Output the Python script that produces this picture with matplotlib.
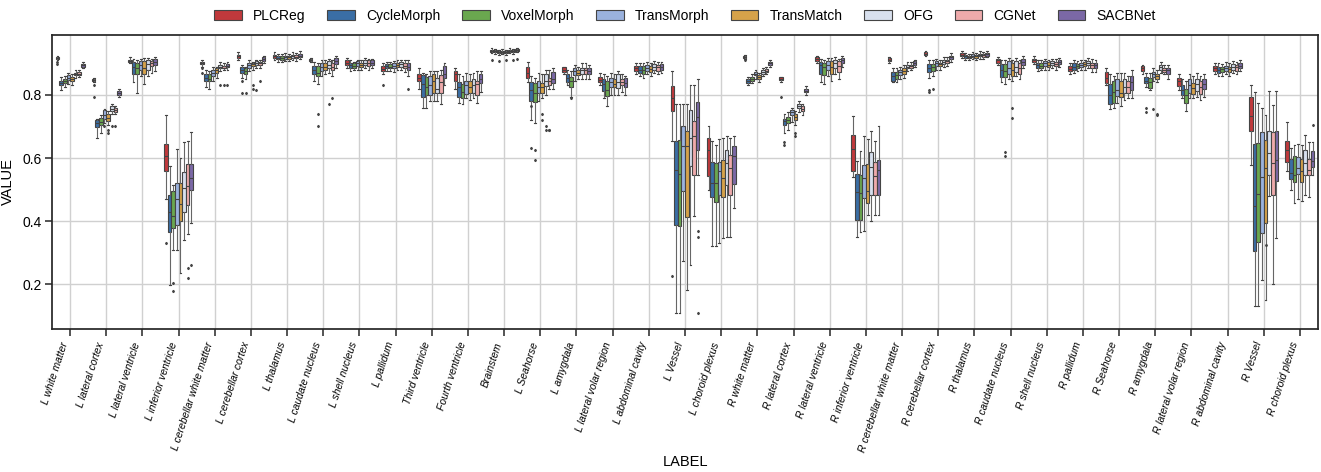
import matplotlib
matplotlib.use("Agg")
import matplotlib.pyplot as plt
from matplotlib.patches import Patch

plt.rcParams['font.family'] = ['Liberation Sans', 'DejaVu Sans']

labels = ["L white matter", "L lateral cortex", "L lateral ventricle", "L inferior ventricle",
          "L cerebellar white matter", "L cerebellar cortex", "L thalamus", "L caudate nucleus",
          "L shell nucleus", "L pallidum", "Third ventricle", "Fourth ventricle", "Brainstem",
          "L Seahorse", "L amygdala", "L lateral volar region", "L abdominal cavity", "L Vessel",
          "L choroid plexus", "R white matter", "R lateral cortex", "R lateral ventricle",
          "R inferior ventricle", "R cerebellar white matter", "R cerebellar cortex", "R thalamus",
          "R caudate nucleus", "R shell nucleus", "R pallidum", "R Seahorse", "R amygdala",
          "R lateral volar region", "R abdominal cavity", "R Vessel", "R choroid plexus"]
methods = ["PLCReg", "CycleMorph", "VoxelMorph", "TransMorph", "TransMatch", "OFG", "CGNet", "SACBNet"]
colors = ["#c0393c", "#3a6ea5", "#6aa74f", "#9ab2de", "#d6a24a", "#d8e0ee", "#eeaaab", "#7b68a6"]

# per label, per method
med = [
    [.917, .838, .843, .855, .850, .866, .868, .895],
    [.848, .710, .715, .738, .728, .755, .752, .806],
    [.908, .890, .885, .895, .885, .898, .900, .905],
    [.605, .430, .415, .470, .455, .505, .510, .537],
    [.902, .855, .850, .870, .878, .890, .887, .892],
    [.923, .880, .875, .895, .897, .900, .900, .913],
    [.922, .918, .917, .920, .919, .923, .921, .925],
    [.912, .878, .870, .888, .888, .895, .890, .908],
    [.902, .895, .893, .900, .895, .902, .900, .902],
    [.883, .891, .890, .893, .895, .897, .892, .890],
    [.855, .835, .825, .830, .845, .820, .840, .865],
    [.865, .825, .810, .830, .825, .830, .835, .850],
    [.940, .938, .936, .937, .935, .940, .939, .943],
    [.870, .815, .805, .825, .825, .845, .843, .850],
    [.880, .853, .845, .875, .870, .878, .878, .875],
    [.848, .835, .815, .840, .835, .840, .840, .838],
    [.885, .880, .878, .887, .882, .890, .888, .890],
    [.790, .563, .550, .637, .637, .663, .669, .729],
    [.626, .521, .521, .559, .537, .584, .568, .605],
    [.921, .845, .851, .867, .856, .873, .877, .900],
    [.852, .716, .720, .745, .730, .765, .755, .814],
    [.913, .895, .888, .895, .890, .900, .893, .910],
    [.630, .491, .489, .537, .494, .570, .542, .563],
    [.912, .860, .862, .872, .877, .890, .891, .900],
    [.931, .885, .888, .900, .897, .905, .907, .920],
    [.928, .922, .921, .925, .922, .927, .926, .930],
    [.910, .880, .875, .885, .880, .890, .886, .905],
    [.910, .895, .893, .900, .896, .902, .898, .905],
    [.883, .890, .892, .895, .897, .902, .895, .895],
    [.855, .800, .810, .815, .805, .825, .825, .840],
    [.885, .845, .840, .865, .860, .888, .880, .878],
    [.845, .815, .800, .830, .822, .835, .825, .835],
    [.885, .880, .882, .885, .882, .890, .888, .893],
    [.732, .447, .486, .539, .568, .616, .584, .595],
    [.626, .552, .547, .568, .560, .584, .563, .592],
]
q1 = [
    [.914, .831, .838, .848, .843, .862, .864, .890],
    [.845, .697, .704, .725, .718, .748, .746, .800],
    [.905, .865, .865, .880, .867, .880, .891, .896],
    [.560, .367, .378, .388, .400, .430, .450, .500],
    [.897, .843, .843, .860, .870, .884, .884, .888],
    [.918, .870, .867, .886, .891, .894, .894, .907],
    [.918, .913, .912, .915, .914, .918, .916, .920],
    [.908, .867, .859, .875, .880, .886, .880, .898],
    [.894, .886, .886, .891, .888, .894, .891, .894],
    [.875, .884, .884, .884, .888, .888, .884, .878],
    [.843, .795, .800, .800, .807, .807, .807, .854],
    [.845, .793, .790, .803, .807, .807, .800, .838],
    [.937, .935, .933, .934, .932, .937, .936, .940],
    [.854, .780, .778, .807, .807, .828, .833, .838],
    [.873, .841, .824, .862, .862, .867, .867, .865],
    [.841, .812, .796, .824, .824, .822, .831, .824],
    [.875, .870, .867, .877, .873, .880, .877, .880],
    [.748, .388, .386, .494, .412, .574, .547, .626],
    [.542, .475, .462, .484, .475, .516, .484, .517],
    [.917, .838, .845, .862, .850, .868, .872, .895],
    [.848, .706, .711, .737, .722, .759, .748, .808],
    [.907, .867, .862, .880, .867, .886, .873, .902],
    [.560, .404, .404, .473, .457, .484, .484, .484],
    [.908, .845, .851, .862, .867, .884, .886, .896],
    [.927, .873, .875, .891, .891, .898, .902, .915],
    [.924, .917, .916, .920, .917, .922, .921, .925],
    [.902, .856, .856, .867, .859, .873, .867, .896],
    [.905, .886, .886, .891, .888, .896, .891, .898],
    [.875, .880, .884, .888, .891, .894, .884, .884],
    [.838, .771, .775, .796, .793, .807, .807, .815],
    [.875, .838, .822, .856, .852, .880, .873, .867],
    [.828, .801, .775, .807, .803, .812, .803, .818],
    [.877, .870, .873, .877, .873, .880, .877, .884],
    [.687, .304, .333, .362, .394, .547, .484, .526],
    [.589, .534, .524, .549, .524, .547, .545, .570],
]
q3 = [
    [.920, .845, .850, .862, .856, .871, .872, .899],
    [.851, .722, .727, .751, .740, .764, .760, .812],
    [.912, .904, .900, .907, .909, .912, .907, .915],
    [.644, .484, .496, .520, .520, .555, .580, .580],
    [.906, .867, .865, .880, .886, .896, .891, .898],
    [.927, .888, .886, .902, .902, .907, .905, .920],
    [.928, .923, .922, .925, .924, .928, .926, .930],
    [.915, .893, .891, .902, .902, .907, .902, .917],
    [.910, .902, .900, .907, .902, .910, .910, .910],
    [.891, .898, .898, .900, .902, .905, .900, .900],
    [.867, .862, .856, .860, .865, .854, .862, .891],
    [.877, .841, .835, .843, .845, .850, .845, .865],
    [.943, .941, .939, .940, .938, .943, .942, .946],
    [.888, .841, .838, .845, .838, .865, .854, .873],
    [.888, .865, .856, .886, .880, .886, .886, .886],
    [.856, .849, .843, .854, .849, .865, .849, .854],
    [.893, .891, .891, .896, .893, .898, .896, .898],
    [.828, .653, .658, .700, .685, .753, .716, .777],
    [.663, .589, .584, .587, .595, .624, .611, .637],
    [.925, .852, .857, .872, .862, .878, .882, .905],
    [.856, .725, .729, .753, .740, .771, .764, .820],
    [.920, .904, .902, .909, .907, .912, .907, .917],
    [.674, .549, .547, .579, .581, .619, .589, .595],
    [.916, .873, .873, .880, .886, .896, .896, .907],
    [.935, .898, .898, .907, .902, .912, .912, .925],
    [.932, .926, .925, .929, .926, .931, .930, .934],
    [.915, .898, .898, .909, .902, .909, .902, .914],
    [.915, .902, .902, .907, .904, .908, .906, .912],
    [.891, .900, .899, .902, .903, .908, .902, .902],
    [.873, .835, .843, .849, .845, .850, .843, .860],
    [.891, .856, .854, .873, .867, .894, .886, .886],
    [.854, .831, .820, .849, .838, .849, .845, .852],
    [.891, .888, .890, .893, .890, .898, .896, .900],
    [.793, .644, .648, .681, .658, .685, .683, .685],
    [.655, .597, .605, .602, .598, .626, .598, .623],
]
whis_lo = [
    [.912, .817, .825, .835, .832, .855, .856, .884],
    [.842, .665, .680, .710, .705, .740, .740, .795],
    [.900, .840, .806, .860, .835, .860, .870, .875],
    [.470, .198, .310, .310, .235, .340, .360, .395],
    [.890, .825, .820, .845, .855, .875, .878, .880],
    [.912, .855, .850, .875, .880, .885, .885, .900],
    [.911, .906, .905, .908, .907, .911, .909, .913],
    [.905, .845, .835, .860, .865, .870, .860, .885],
    [.885, .875, .878, .880, .878, .885, .880, .885],
    [.865, .875, .875, .872, .878, .878, .872, .860],
    [.820, .760, .760, .780, .780, .780, .770, .830],
    [.820, .775, .770, .790, .785, .790, .775, .810],
    [.932, .930, .928, .929, .927, .932, .931, .935],
    [.840, .720, .710, .780, .790, .800, .820, .820],
    [.865, .830, .795, .845, .850, .850, .850, .850],
    [.830, .790, .765, .800, .800, .800, .810, .800],
    [.865, .860, .855, .865, .860, .870, .865, .870],
    [.653, .108, .108, .272, .182, .262, .415, .547],
    [.500, .320, .320, .330, .346, .350, .350, .442],
    [.914, .830, .838, .852, .842, .860, .865, .890],
    [.842, .680, .690, .715, .705, .745, .735, .800],
    [.900, .840, .835, .860, .845, .865, .850, .890],
    [.540, .351, .367, .370, .420, .400, .420, .420],
    [.900, .840, .840, .850, .855, .875, .878, .888],
    [.922, .855, .860, .878, .880, .890, .892, .905],
    [.918, .910, .910, .913, .910, .915, .914, .920],
    [.895, .840, .835, .850, .845, .860, .850, .885],
    [.898, .875, .878, .880, .878, .885, .880, .888],
    [.865, .870, .875, .878, .880, .885, .872, .872],
    [.830, .755, .760, .775, .765, .785, .790, .790],
    [.865, .825, .815, .845, .840, .870, .865, .850],
    [.815, .790, .750, .790, .790, .795, .785, .795],
    [.865, .860, .860, .865, .860, .870, .865, .875],
    [.579, .130, .130, .214, .150, .480, .200, .346],
    [.560, .500, .457, .470, .465, .484, .478, .545],
]
whis_hi = [
    [.922, .856, .860, .870, .865, .878, .879, .904],
    [.853, .725, .735, .755, .750, .770, .765, .820],
    [.920, .915, .912, .915, .918, .918, .915, .920],
    [.738, .574, .515, .630, .600, .650, .655, .683],
    [.910, .880, .875, .890, .890, .905, .900, .905],
    [.935, .895, .890, .910, .905, .912, .910, .925],
    [.935, .930, .929, .932, .931, .936, .934, .938],
    [.918, .905, .900, .910, .910, .915, .910, .925],
    [.918, .910, .905, .912, .910, .918, .915, .915],
    [.900, .905, .905, .908, .910, .912, .910, .910],
    [.885, .870, .865, .875, .875, .875, .880, .900],
    [.885, .865, .860, .870, .865, .870, .875, .875],
    [.948, .946, .944, .945, .943, .948, .947, .950],
    [.905, .860, .855, .870, .865, .880, .880, .885],
    [.890, .880, .875, .895, .890, .900, .900, .895],
    [.870, .865, .860, .870, .865, .875, .865, .860],
    [.900, .900, .900, .905, .900, .908, .905, .905],
    [.877, .770, .770, .770, .770, .833, .830, .852],
    [.703, .653, .640, .660, .664, .670, .665, .670],
    [.928, .858, .865, .878, .870, .885, .888, .910],
    [.858, .740, .745, .760, .750, .780, .772, .828],
    [.925, .915, .910, .918, .918, .920, .915, .925],
    [.732, .590, .621, .670, .660, .685, .653, .700],
    [.920, .885, .885, .890, .895, .905, .905, .912],
    [.940, .910, .910, .915, .912, .920, .920, .932],
    [.938, .932, .931, .936, .932, .938, .936, .940],
    [.920, .910, .910, .918, .912, .918, .912, .922],
    [.922, .910, .910, .915, .912, .915, .915, .918],
    [.900, .910, .908, .910, .912, .918, .915, .912],
    [.885, .865, .860, .870, .870, .870, .860, .880],
    [.895, .870, .870, .885, .880, .905, .895, .895],
    [.865, .850, .845, .865, .860, .870, .860, .865],
    [.900, .900, .898, .905, .900, .908, .905, .910],
    [.830, .810, .775, .759, .737, .812, .769, .812],
    [.713, .632, .640, .645, .640, .674, .650, .650],
]
# outliers: (label index, method index, values)
outliers = [
    (0, 0, [.905, .898]), (1, 0, [.830, .795]), (1, 3, [.700]), (1, 4, [.690, .680]),
    (1, 5, [.700]), (1, 6, [.700]), (3, 0, [.330]), (3, 2, [.180, .205]),
    (3, 6, [.220, .250]), (3, 7, [.262]), (4, 0, [.885, .870]), (4, 5, [.830]),
    (4, 6, [.830]), (4, 7, [.830]), (5, 1, [.845, .805]), (5, 2, [.805]),
    (5, 4, [.830, .820]), (5, 5, [.815]), (5, 6, [.845]), (7, 2, [.740, .703]),
    (7, 5, [.770]), (7, 6, [.790]), (9, 0, [.830]), (9, 7, [.820]),
    (12, 0, [.912]), (12, 2, [.908]), (12, 4, [.912]), (12, 6, [.910]), (12, 7, [.913]),
    (13, 1, [.765, .633]), (13, 2, [.625, .595]), (13, 4, [.740, .720]),
    (13, 5, [.700, .690]), (13, 6, [.690, .690]), (14, 2, [.790]),
    (17, 0, [.225]), (17, 7, [.370, .350, .110]), (19, 0, [.910]),
    (20, 0, [.795]), (20, 1, [.650, .640]), (20, 4, [.680, .670]),
    (24, 1, [.810, .815]), (24, 2, [.820]), (26, 2, [.619, .605]), (26, 4, [.727, .759]),
    (30, 1, [.760, .745]), (30, 3, [.755]), (30, 4, [.740, .735]),
    (33, 4, [.325]), (34, 7, [.706]),
]

fig = plt.figure(figsize=(13.21, 4.72), dpi=100)
ax = fig.add_axes([0.0394, 0.303, 0.9583, 0.6228])

fl = {}
for li, mi, vals in outliers:
    fl[(li, mi)] = vals

n = len(methods)
w = 0.8 / n
for j in range(n):
    stats, pos = [], []
    for i in range(len(labels)):
        stats.append(dict(med=med[i][j], q1=q1[i][j], q3=q3[i][j],
                          whislo=whis_lo[i][j], whishi=whis_hi[i][j],
                          fliers=fl.get((i, j), [])))
        pos.append(i - 0.4 + w * (j + 0.5))
    ax.bxp(stats, positions=pos, widths=w, patch_artist=True, manage_ticks=False,
           boxprops=dict(facecolor=colors[j], edgecolor="#444444", linewidth=0.8),
           medianprops=dict(color="#444444", linewidth=0.8),
           whiskerprops=dict(color="#666666", linewidth=0.8),
           capprops=dict(color="#444444", linewidth=0.8),
           flierprops=dict(marker="d", markersize=1.2, markerfacecolor="#444444",
                           markeredgecolor="#444444"),
           capwidths=w * 0.5, zorder=3)

ax.set_xlim(-0.5, len(labels) - 0.5)
ax.set_ylim(0.058, 0.99)
ax.set_xticks(range(len(labels)))
ax.set_xticklabels(labels, rotation=72, ha="right", fontsize=7.5, style="italic")
ax.set_yticks([0.2, 0.4, 0.6, 0.8])
ax.set_yticklabels(["0.2", "0.4", "0.6", "0.8"], fontsize=10)
ax.grid(True, color="#d0d0d0", linewidth=1, zorder=0)
ax.set_axisbelow(True)
for s in ax.spines.values():
    s.set_color("#262626")
    s.set_linewidth(1.25)
ax.tick_params(axis="both", length=5, width=1.1, color="#262626")
ax.tick_params(axis="y", pad=2.5)
ax.set_ylabel("VALUE", fontsize=10.5)
ax.yaxis.set_label_coords(-0.029, 0.5)
ax.set_xlabel("LABEL", fontsize=10.5)
ax.xaxis.set_label_coords(0.5, -0.43)

handles = [Patch(facecolor=c, edgecolor="#444444", linewidth=0.8) for c in colors]
ax.legend(handles, methods, loc="lower center", bbox_to_anchor=(0.5, 1.0), ncol=n,
          frameon=False, fontsize=10, handlelength=2.0, columnspacing=1.55)

fig.savefig("out.png", dpi=100)
